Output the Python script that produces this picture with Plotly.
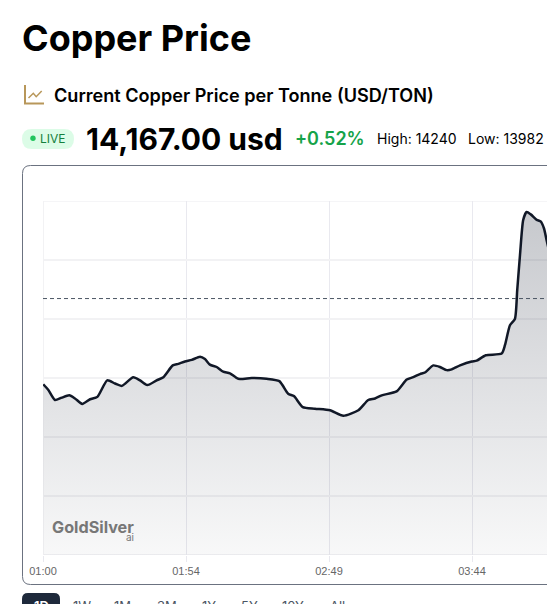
import plotly.graph_objects as go

# ---- data ----
minutes = [0.1, 2.0, 4.6, 7.2, 10.1, 12.3, 15.1, 18.1, 20.9, 24.7, 27.7, 30.3, 34.7, 37.3, 40.1, 43.7, 46.3,
           49.9, 52.0, 54.6, 57.2, 60.4, 62.3, 64.2, 66.8, 69.3, 71.9, 75.1, 80.3, 86.0, 90.9, 94.3, 96.5,
           99.9, 104.6, 110.4, 115.5, 121.3, 125.1, 127.7, 130.3, 136.0, 139.9, 142.4, 145.0, 146.9, 150.1,
           152.7, 155.3, 157.2, 160.4, 164.9, 166.8, 170.3, 176.4, 177.7, 179.6, 181.5, 182.4, 183.5, 184.7,
           186.0, 187.6, 189.9, 191.4, 192.7, 193.7, 196.0]
prices = [14017, 14010, 13997, 14000, 14003, 13999, 13992, 13998, 14001, 14022, 14018, 14015, 14026, 14022, 14016,
          14022, 14026, 14041, 14043, 14046, 14048, 14052, 14049, 14042, 14039, 14033, 14031, 14024, 14025, 14024,
          14021, 14005, 14002, 13988, 13986, 13984, 13977, 13984, 13997, 13999, 14003, 14008, 14023, 14026, 14030,
          14032, 14041, 14039, 14035, 14036, 14041, 14046, 14047, 14054, 14056, 14067, 14092, 14100, 14137, 14183,
          14226, 14236, 14233, 14226, 14224, 14215, 14200, 14167]
reference_price = 14126
x_tick_values = [0, 55, 110, 165]
x_tick_labels = ["01:00", "01:54", "02:49", "03:44"]
y_tick_values = [13800, 13875, 13950, 14025, 14100, 14175, 14250]
range_labels = ["1W", "1M", "3M", "1Y", "5Y", "10Y", "All"]
range_centers = [82, 123, 167, 209, 249, 293, 337]

W, H = 547, 604
PLOT_L, PLOT_T, PLOT_B = 43, 201, 555
FONT = "Inter"


def fx(x):
    return x / W


def fy(y):
    return 1 - y / H


def path(points, close=False):
    s = "M " + " L ".join(f"{fx(x):.5f},{fy(y):.5f}" for x, y in points)
    return s + (" Z" if close else "")


def rounded(x0, y0, x1, y1, r):
    return (f"M {fx(x0 + r):.5f},{fy(y0):.5f} L {fx(x1 - r):.5f},{fy(y0):.5f} "
            f"Q {fx(x1):.5f},{fy(y0):.5f} {fx(x1):.5f},{fy(y0 + r):.5f} "
            f"L {fx(x1):.5f},{fy(y1 - r):.5f} Q {fx(x1):.5f},{fy(y1):.5f} {fx(x1 - r):.5f},{fy(y1):.5f} "
            f"L {fx(x0 + r):.5f},{fy(y1):.5f} Q {fx(x0):.5f},{fy(y1):.5f} {fx(x0):.5f},{fy(y1 - r):.5f} "
            f"L {fx(x0):.5f},{fy(y0 + r):.5f} Q {fx(x0):.5f},{fy(y0):.5f} {fx(x0 + r):.5f},{fy(y0):.5f} Z")


def label(text, x, y, size, color="#000000", weight=400, anchor="left", family=FONT):
    return dict(text=text, x=fx(x), y=fy(y), xref="paper", yref="paper", xanchor=anchor, yanchor="middle",
                showarrow=False, align=anchor, borderpad=0,
                font=dict(family=family, size=size, color=color, weight=weight))


fig = go.Figure()
fig.add_trace(go.Scatter(
    x=minutes, y=prices, mode="lines",
    line=dict(color="#111827", width=2.5, shape="spline", smoothing=0.6),
    fill="tozeroy",
    fillgradient=dict(type="vertical", start=14250, stop=13800,
                      colorscale=[[0, "rgba(15,23,42,0.24)"], [1, "rgba(15,23,42,0.03)"]]),
    hoverinfo="skip", showlegend=False,
))

shapes = [
    # chart card, open on the right where the window cuts it
    dict(type="path", xref="paper", yref="paper",
         path=(f"M {fx(560)},{fy(165.5)} L {fx(30.5)},{fy(165.5)} Q {fx(22.5)},{fy(165.5)} {fx(22.5)},{fy(173.5)} "
               f"L {fx(22.5)},{fy(576.5)} Q {fx(22.5)},{fy(584.5)} {fx(30.5)},{fy(584.5)} L {fx(560)},{fy(584.5)}"),
         line=dict(color="#6b7280", width=1), layer="below"),
    # grid lines on the plot's edges, which the axes leave out
    dict(type="line", xref="x", yref="y", x0=0, x1=200, y0=14250, y1=14250,
         line=dict(color="#f2f2f4", width=1.5), layer="below"),
    dict(type="line", xref="x", yref="y", x0=0, x1=200, y0=13800, y1=13800,
         line=dict(color="#ececf0", width=1.5), layer="below"),
    dict(type="line", xref="x", yref="y", x0=0, x1=0, y0=13800, y1=14250,
         line=dict(color="#f2f2f4", width=2), layer="below"),
    # heading icon
    dict(type="path", xref="paper", yref="paper", path=path([(25, 85), (25, 103.5), (44, 103.5)]),
         line=dict(color="#b8975a", width=2)),
    dict(type="path", xref="paper", yref="paper", path=path([(28.5, 98), (33.3, 93.3), (36.2, 96.7), (41.7, 91)]),
         line=dict(color="#b8975a", width=1.5)),
    # LIVE pill and dot
    dict(type="path", xref="paper", yref="paper", path=rounded(22, 129, 74, 149, 10),
         fillcolor="#dcfce7", line=dict(width=0)),
    dict(type="circle", xref="paper", yref="paper", x0=fx(30.3), x1=fx(35.7), y0=fy(141), y1=fy(135.6),
         fillcolor="#22c55e", line=dict(width=0)),
    # reference price
    dict(type="line", xref="paper", yref="y", x0=fx(43), x1=1, y0=reference_price, y1=reference_price,
         line=dict(color="#4b5563", width=1, dash="4px 3px")),
    # active range button
    dict(type="path", xref="paper", yref="paper", path=rounded(22, 593, 60, 620, 6),
         fillcolor="#1e293b", line=dict(width=0)),
]

annotations = [
    label("Copper Price", 21, 37.5, 36, weight=700),
    label("Current Copper Price per Tonne (USD/TON)", 53, 94.5, 18.1, weight=600),
    label("LIVE", 39, 138.5, 12, color="#15803d"),
    label("14,167.00 usd", 85, 139, 30, weight=700),
    label("+0.52%", 293.5, 138.5, 18, color="#16a34a", weight=600),
    label("High: 14240", 376, 138.5, 14),
    label("Low: 13982", 467, 138.5, 14),
    label("GoldSilver", 51, 527, 16.2, color="#777777", weight=700),
    label("ai", 135, 537, 10, color="#777777", anchor="right"),
    label("1D", 41, 606, 13, color="#ffffff", weight=600, anchor="center"),
]
for text, cx in zip(range_labels, range_centers):
    annotations.append(label(text, cx, 606, 13, color="#4b5563", anchor="center"))

fig.update_layout(
    width=W, height=H, margin=dict(l=0, r=0, t=0, b=0, autoexpand=False),
    paper_bgcolor="#ffffff", plot_bgcolor="#ffffff", showlegend=False,
    xaxis=dict(domain=[fx(PLOT_L), 1], range=[0, (W - PLOT_L) / 2.6], tickmode="array",
               tickvals=x_tick_values, ticktext=x_tick_labels, showgrid=True, gridcolor="#e9e9ef", gridwidth=1,
               zeroline=False, showline=False, ticks="outside", ticklen=6, tickcolor="#e9e9ef", tickwidth=1,
               tickfont=dict(family="Liberation Sans", size=11, color="#666666")),
    yaxis=dict(domain=[fy(PLOT_B), fy(PLOT_T)], range=[13800, 14250], tickmode="array",
               tickvals=y_tick_values, showticklabels=False, showgrid=True, gridcolor="#f2f2f4", gridwidth=1.5,
               zeroline=False, showline=False, ticks=""),
    shapes=shapes, annotations=annotations,
)

fig.write_html("out.html", config=dict(displayModeBar=False),
               post_script="document.documentElement.style.overflow='hidden';document.body.style.margin='0';")
